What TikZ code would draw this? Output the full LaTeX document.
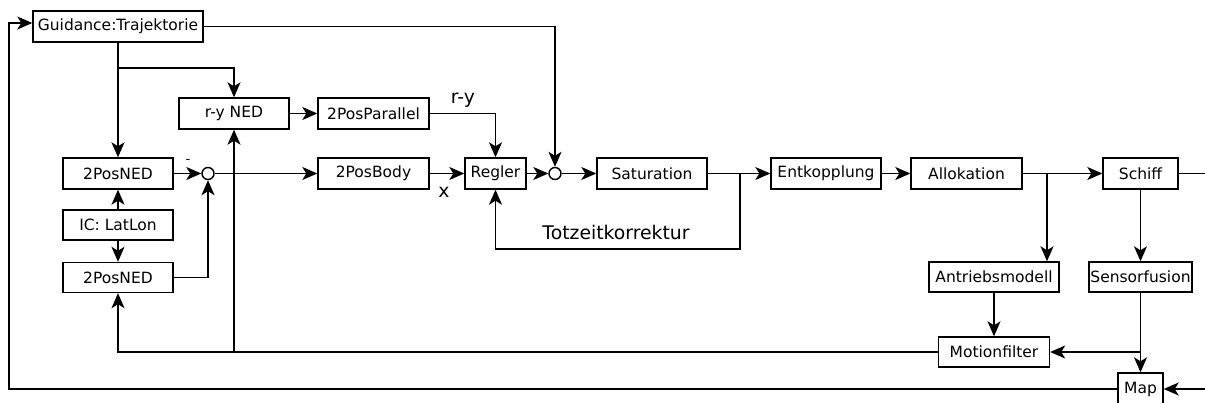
\documentclass[tikz,border=0pt]{standalone}
\usepackage{fontspec}
\setmainfont{DejaVu Sans}
\usetikzlibrary{arrows.meta}
\begin{document}
\begin{tikzpicture}[x=1pt,y=-1pt,
  blk/.style={draw,line width=1.4pt,minimum height=31pt,inner sep=0pt,font=\fontsize{15.5}{18}\selectfont},
  sumpt/.style={draw,circle,line width=1.4pt,minimum size=12pt,inner sep=0pt},
  lbl/.style={font=\fontsize{18.8}{22}\selectfont,inner sep=0pt},
  conn/.style={line width=1.4pt,-{Stealth[length=15pt,width=13pt,inset=4pt]}},
  wire/.style={line width=1.4pt}]
\useasboundingbox (0,0) rectangle (1205,403);

% blocks
\node[blk,minimum width=170pt] (guid) at (118,26.5) {Guidance:Trajektorie};
\node[blk,minimum width=110pt] (rned) at (234,113.5) {r-y NED};
\node[blk,minimum width=111pt] (par) at (373.5,113.5) {2PosParallel};
\node[blk,minimum width=110pt] (ned1) at (118,173.5) {2PosNED};
\node[sumpt] (sum1) at (208,173.5) {};
\node[blk,minimum width=111pt] (body) at (373.5,173.5) {2PosBody};
\node[blk,minimum width=61pt] (reg) at (495.5,173.5) {Regler};
\node[sumpt] (sum2) at (555,173.5) {};
\node[blk,minimum width=110pt] (sat) at (652,173.5) {Saturation};
\node[blk,minimum width=110pt] (entk) at (826,173.5) {Entkopplung};
\node[blk,minimum width=111pt] (allok) at (966.5,173.5) {Allokation};
\node[blk,minimum width=75pt] (schiff) at (1140.5,173.5) {Schiff};
\node[blk,minimum width=110pt,minimum height=30pt] (ic) at (118,225) {IC: LatLon};
\node[blk,minimum width=110pt,minimum height=30pt] (ned2) at (118,277.5) {2PosNED};
\node[blk,minimum width=130pt,minimum height=30pt] (antr) at (994,277) {Antriebsmodell};
\node[blk,minimum width=103pt,minimum height=30pt] (sens) at (1140.5,277) {Sensorfusion};
\node[blk,minimum width=111pt,minimum height=30pt] (motion) at (994,352) {Motionfilter};
\node[blk,minimum width=45pt,minimum height=32pt] (map) at (1140.5,389) {Map};

% labels
\node[lbl] (lry) at (463,100) {r-y};
\node[lbl] (lx) at (444,192) {x};
\node[font=\fontsize{13}{13}\selectfont,inner sep=0pt] (lneg) at (188,161) {-};
\node[lbl] (ltz) at (616,232) {Totzeitkorrektur};

% junctions and free ends
\coordinate (g1) at (118,68);
\coordinate (tz) at (740,173.5);
\coordinate (tzb) at (740,249);
\coordinate (ab) at (1047,173.5);
\coordinate (out) at (1205,173.5);
\coordinate (sb) at (1140.5,352);
\coordinate (vb) at (234,352);
\coordinate (lb) at (9,389);
\coordinate (lt) at (9,23);
\coordinate (in) at (1205,389);

% connectors
\draw[conn] (guid.south) -- (ned1.north);
\draw[conn] (g1) -| (rned.north);
\draw[conn] (rned) -- (par);
\draw[conn] (par.east) -| (reg.north);
\draw[conn] (guid.east) -| (sum2.north);
\draw[conn] (ned1) -- (sum1);
\draw[conn] (sum1) -- (body);
\draw[conn] (body) -- (reg);
\draw[conn] (reg) -- (sum2);
\draw[conn] (sum2) -- (sat);
\draw[conn] (sat) -- (entk);
\draw[conn] (tz) -- (tzb) -| (reg.south);
\draw[conn] (entk) -- (allok);
\draw[conn] (allok) -- (schiff);
\draw[conn] (ab) -- (ab |- antr.north);
\draw[wire] (schiff) -- (out);
\draw[conn] (schiff) -- (sens);
\draw[conn] (sens) -- (map);
\draw[conn] (sb) -- (motion);
\draw[conn] (antr) -- (motion);
\draw[conn] (motion.west) -| (ned2.south);
\draw[conn] (vb) -- (rned.south);
\draw[conn] (ic) -- (ned1);
\draw[conn] (ic) -- (ned2);
\draw[conn] (ned2.east) -| (sum1.south);
\draw[conn] (map.west) -- (lb) -- (lt) -- (guid.west |- lt);
\draw[conn] (in) -- (map.east);
\end{tikzpicture}
\end{document}
